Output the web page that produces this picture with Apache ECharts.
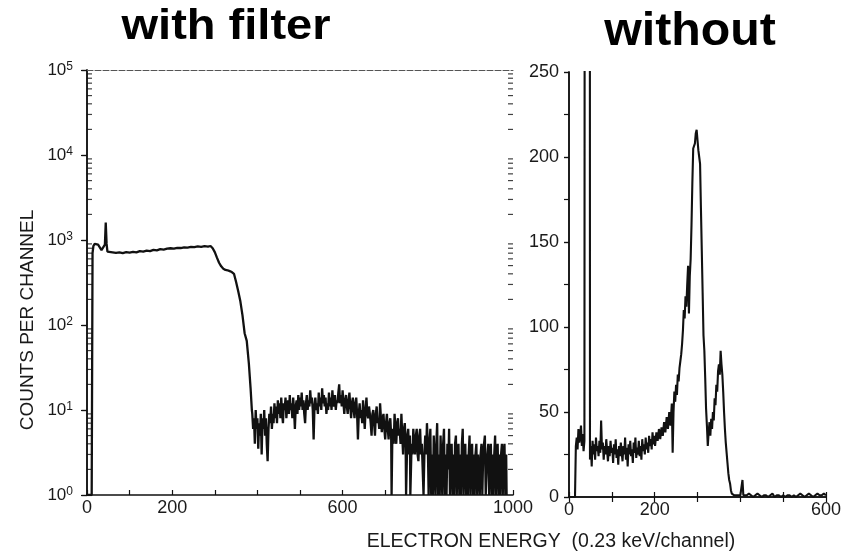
<!DOCTYPE html>
<html>
<head>
<meta charset="utf-8">
<script src="https://cdn.jsdelivr.net/npm/echarts@6/dist/echarts.min.js"></script>
<style>
  html, body { margin: 0; padding: 0; background: #fff; }
  #chart { width: 859px; height: 554px; }
</style>
</head>
<body>
<div id="chart"></div>
<script>
// ---------- data ----------
// Left panel: spectrum with filter, [channel, counts]
const leftSpectrum = [
  [0,1],[11,1],[12,1],[13,700],[15,850],[18,900],[22,870],[26,880],[30,820],[34,760],[38,800],[42,880],[44,1600],[46,900],[48,730],
  [52,710],[56,720],[60,720],[68,705],[76,715],[84,700],[92,720],[100,710],[108,725],[116,715],[124,740],[132,730],[140,750],[148,740],
  [156,765],[164,755],[172,780],[180,770],[188,790],[196,800],[204,790],[212,810],[220,805],[228,820],[236,815],[244,830],[252,825],
  [260,840],[268,830],[276,845],[284,835],[290,850],[295,800],[300,720],[305,620],[310,540],[315,490],[320,460],[325,445],[330,440],
  [335,430],[340,420],[345,400],[350,320],[355,250],[360,190],[365,130],[370,80],[375,65],[380,35],[384,18],[387,10],
  [388,9],[390,6],[392,8],[394,4],[396,10],[398,6],[400,8],[402,3.5],[404,7],[406,5],[408,9],[410,3],[412,8],[414,6],[416,10],[418,5],
  [420,8],[422,4],[424,2.5],[426,6],[428,9],[430,7],[432,11],[434,6],[436,9],[438,7],[440,12],[442,8],[444,11],[446,7],[448,13],[450,9],
  [452,12],[454,8],[456,14],[458,9],[460,7],[462,12],[464,10],[466,14],[468,8],[470,11],[472,13],[474,9],[476,15],[478,10],[480,12],
  [482,8],[484,14],[486,10],[488,6],[490,11],[492,13],[494,9],[496,15],[498,10],[500,14],[502,11],[504,16],[506,10],[508,13],[510,9],
  [512,7],[514,12],[516,15],[518,10],[520,13],[522,11],[524,17],[526,12],[528,14],[530,10],[532,4.5],[534,11],[536,14],[538,10],
  [540,12],[542,9],[544,16],[546,11],[548,14],[550,10],[552,18],[554,12],[556,15],[558,11],[560,14],[562,9],[564,12],[566,10],
  [568,16],[570,11],[572,14],[574,10],[576,17],[578,12],[580,11],[582,15],[584,10],[586,13],[588,12],[590,16],[592,20],[594,12],
  [596,15],[598,11],[600,17],[602,12],[604,9],[606,13],[608,15],[610,11],[612,9],[614,13],[616,16],[618,11],[620,8],[622,12],
  [624,14],[626,10],[628,8],[630,12],[632,14],[634,9],[636,4.5],[638,9],[640,12],[642,8],[644,10],[646,7],[648,13],[650,9],[652,6],
  [654,10],[656,14],[658,9],[660,8],[662,11],[664,9],[666,7],[668,5],[670,9],[672,10],[674,7],[676,5],[678,9],[680,11],[682,7],
  [684,8],[686,6],[688,12],[690,8],[692,5.5],[694,8],[696,9],[698,6],[700,4.5],[702,7],[704,9],[706,6],[708,4.5],[710,7],[712,8],
  [714,5],[715,1],[716,1],[717,6],[720,4],[722,9],[724,6],[726,4],[728,7],[730,8],[732,5],[734,6],[736,4],[738,9],[740,5],[742,3],
  [744,6],[746,7],[748,4],[749,1],[751,1],[752,5],[754,6],[756,3],[758,5],[759,1],[761,1],[762,4],[764,3],[766,6],[768,4],[770,3],
  [772,5],[774,6],[776,3],[778,2.5],[780,5],[782,6],[784,3],[786,4],[788,2],[790,1],[792,3],[794,5],[796,3],[798,7],
  [800,4],[802,1],[804,4],[806,6],[808,1],[810,3],[812,1],[814,5],[816,2],[818,1],[820,4],[822,7],[824,1],[826,3],[828,1],[830,5],
  [832,2],[834,1],[836,4],[838,6],[840,1],[842,3],[844,1],[846,4],[848,2],[850,6],[852,1],[854,3],[856,4],[858,1],[860,3],[862,1],
  [864,4],[866,5],[868,1],[870,3],[872,4],[874,1],[876,3],[878,1],[880,4],[882,6],[884,1],[886,3],[888,4],[890,1],[892,3],[894,1],
  [896,3],[898,5],[900,1],[902,3],[904,4],[906,1],[908,3],[910,1],[912,3],[914,4],[916,1],[918,3],[920,2],[922,1],[924,3],[926,4],
  [928,1],[930,3],[932,4],[934,5],[936,1],[938,2],[940,3],[942,4],[944,1],[946,3],[948,4],[950,1],[952,3],[954,1],[956,3],[958,5],
  [960,1],[962,3],[964,4],[966,1],[968,3],[970,1],[972,3],[974,4],[976,1],[978,3],[980,4],[982,1],[984,3],[985,1]
];
// Right panel: spectrum without filter, [channel, counts] (first peak runs off scale)
const rightSpectrum = [
  [0,0],[14,0],[16,30],[18,35],[20,28],[22,40],[24,32],[26,36],[28,42],[30,30],[32,37],[34,27],[36,33],[38,1000],[48,1000],
  [49,22],[51,30],[53,18],[55,33],[57,25],[59,31],[61,22],[63,35],[65,27],[67,30],[69,24],[71,33],[73,26],[75,45],[77,28],[79,32],
  [81,22],[83,30],[85,25],[87,34],[89,27],[91,21],[93,30],[95,24],[97,33],[99,26],[101,29],[103,20],[105,31],[107,25],[109,34],
  [111,23],[113,28],[115,19],[117,30],[119,24],[121,32],[123,26],[125,21],[127,30],[129,25],[131,35],[133,22],[135,29],[137,18],
  [139,31],[141,25],[143,33],[145,24],[147,28],[149,20],[151,32],[153,26],[155,35],[157,23],[159,29],[161,25],[163,33],[165,24],
  [167,30],[169,22],[171,34],[173,27],[175,31],[177,25],[179,35],[181,28],[183,32],[185,26],[187,36],[189,30],[191,34],[193,28],
  [195,38],[197,31],[199,36],[201,30],[204,38],[207,33],[210,40],[213,34],[216,41],[219,36],[222,44],[225,38],[228,47],[231,40],
  [234,50],[237,42],[240,55],[242,26],[244,50],[246,62],[248,56],[250,66],[252,60],[254,72],[256,68],[258,76],[260,80],[262,84],
  [264,90],[266,98],[268,110],[270,105],[272,118],[274,112],[276,125],[278,136],[280,108],[282,130],[284,140],[286,160],[288,185],
  [290,205],[292,204],[294,208],[296,214],[298,216],[300,210],[302,204],[304,200],[306,196],[308,170],[310,145],[312,120],[314,95],
  [316,86],[318,70],[320,52],[322,42],[324,30],[326,38],[328,44],[330,36],[332,46],[334,40],[336,50],[338,45],[340,58],[342,54],
  [344,66],[346,62],[348,74],[350,78],[352,72],[354,86],[356,78],[358,72],[360,62],[362,50],[364,40],[366,32],[368,26],[370,20],
  [372,14],[374,10],[376,8],[378,4],[380,2],[383,1],[386,1],[390,0],[395,1],[400,1],[403,0],[405,10],[407,1],[410,0],[415,1],
  [420,2],[425,1],[430,0],[435,1],[440,2],[445,1],[450,0],[455,1],[460,1],[465,0],[470,1],[475,2],[480,0],[485,1],[490,1],[495,0],
  [500,1],[505,0],[510,1],[515,1],[520,0],[525,1],[530,0],[535,1],[540,2],[545,1],[550,0],[555,1],[560,2],[565,1],[570,0],[575,1],
  [580,2],[585,1],[590,1],[595,2],[600,1]
];
// tick labels
const leftXLabels = [0, 200, 600, 1000];
const rightXLabels = [0, 200, 600];
const logDecades = [1, 10, 100, 1000, 10000];
const logMinorMultipliers = [2, 3, 4, 5, 6, 7, 8, 9];
// texts
const titleLeft = 'with filter';
const titleRight = 'without';
const yName = 'COUNTS PER CHANNEL';
const xName = 'ELECTRON ENERGY  (0.23 keV/channel)';

// ---------- chart ----------
const INK = '#111';
const FONT = '"Liberation Sans", Arial, sans-serif';
const minorTickValues = [];
logDecades.forEach(d => logMinorMultipliers.forEach(m => minorTickValues.push(d * m)));

const axisLine = { show: true, lineStyle: { color: INK, width: 1.5 } };
const labelStyle = { color: '#1a1a1a', fontFamily: FONT, fontSize: 18 };

const chart = echarts.init(document.getElementById('chart'), null, { renderer: 'canvas' });
chart.setOption({
  backgroundColor: '#fff',
  animation: false,
  grid: [
    { left: 87, top: 70, width: 426, height: 425 },
    { left: 569, top: 72, width: 257, height: 425 }
  ],
  xAxis: [
    { gridIndex: 0, type: 'value', position: 'bottom', min: 0, max: 1000, interval: 100,
      axisLine, splitLine: { show: false },
      axisTick: { inside: true, length: 5, lineStyle: { color: INK, width: 1.2 } },
      axisLabel: { ...labelStyle, margin: 4, formatter: v => leftXLabels.includes(v) ? String(v) : '' } },
    { gridIndex: 0, type: 'value', position: 'top', min: 0, max: 1000, interval: 100,
      axisLine: { show: true, lineStyle: { color: '#555', width: 1, type: [6, 2] } }, splitLine: { show: false },
      axisTick: { show: false }, axisLabel: { show: false } },
    { gridIndex: 1, type: 'value', position: 'bottom', min: 0, max: 600, interval: 100,
      axisLine, splitLine: { show: false },
      axisTick: { inside: true, length: 5, lineStyle: { color: INK, width: 1.2 } },
      axisLabel: { ...labelStyle, margin: 4, formatter: v => rightXLabels.includes(v) ? String(v) : '' } },
    { gridIndex: 1, type: 'value', position: 'top', min: 0, max: 600, interval: 100,
      axisLine, splitLine: { show: false },
      axisTick: { inside: true, length: 5, lineStyle: { color: INK, width: 1.2 } }, axisLabel: { show: false } }
  ],
  yAxis: [
    { gridIndex: 0, type: 'log', logBase: 10, min: 1, max: 100000, splitNumber: 5, position: 'left',
      axisLine, splitLine: { show: false },
      axisTick: { inside: false, length: 5, lineStyle: { color: INK, width: 1.2 } },
      axisLabel: {
        margin: 14,
        formatter: v => '{b|10}{s|' + Math.round(Math.log10(v)) + '}',
        rich: {
          b: { fontFamily: FONT, fontSize: 17, lineHeight: 19, color: '#1a1a1a' },
          s: { fontFamily: FONT, fontSize: 12, lineHeight: 12, verticalAlign: 'top', color: '#1a1a1a' }
        }
      } },
    { gridIndex: 0, type: 'log', logBase: 10, min: 1, max: 100000, splitNumber: 5, position: 'right',
      axisLine, splitLine: { show: false },
      axisTick: { inside: true, length: 6, lineStyle: { color: INK, width: 1.2 } }, axisLabel: { show: false } },
    { gridIndex: 1, type: 'value', min: 0, max: 250, interval: 50, position: 'left',
      axisLine, splitLine: { show: false },
      axisTick: { inside: false, length: 5, lineStyle: { color: INK, width: 1.2 } },
      minorTick: { show: true, splitNumber: 2, length: 3, lineStyle: { color: INK, width: 1 } },
      axisLabel: { ...labelStyle, margin: 10 } },
    { gridIndex: 1, type: 'value', min: 0, max: 250, interval: 25, position: 'right',
      axisLine, splitLine: { show: false },
      axisTick: { inside: true, length: 5, lineStyle: { color: INK, width: 1.2 } }, axisLabel: { show: false } }
  ],
  series: [
    { type: 'line', xAxisIndex: 0, yAxisIndex: 0, data: leftSpectrum, showSymbol: false, clip: true,
      lineStyle: { color: INK, width: 2.3 } },
    { type: 'line', xAxisIndex: 2, yAxisIndex: 2, data: rightSpectrum, showSymbol: false, clip: true,
      lineStyle: { color: INK, width: 2.1 } },
    // log minor ticks, inner side of left axis
    { type: 'scatter', xAxisIndex: 0, yAxisIndex: 0, clip: false, silent: true,
      data: minorTickValues.map(v => [0, v]), symbol: 'rect', symbolSize: [5, 1.2], symbolOffset: [2.5, 0],
      itemStyle: { color: INK } },
    // log minor ticks, inner side of right border
    { type: 'scatter', xAxisIndex: 0, yAxisIndex: 0, clip: false, silent: true,
      data: minorTickValues.map(v => [1000, v]), symbol: 'rect', symbolSize: [5, 1.2], symbolOffset: [-2.5, 0],
      itemStyle: { color: INK } }
  ],
  graphic: [
    { type: 'text', x: 226, y: 27, scaleX: 1.12, style: { text: titleLeft, align: 'center', verticalAlign: 'middle',
      font: 'bold 42px "Liberation Sans", Arial, sans-serif', fill: '#000' } },
    { type: 'text', x: 690, y: 32, scaleX: 1.05, style: { text: titleRight, align: 'center', verticalAlign: 'middle',
      font: 'bold 46px "Liberation Sans", Arial, sans-serif', fill: '#000' } },
    { type: 'text', x: 28, y: 320, rotation: Math.PI / 2, style: { text: yName, align: 'center', verticalAlign: 'middle',
      font: '19px ' + FONT, fill: '#1a1a1a' } },
    { type: 'text', x: 551, y: 542, style: { text: xName, align: 'center', verticalAlign: 'middle',
      font: '19.5px ' + FONT, fill: '#1a1a1a' } }
  ]
});
</script>
</body>
</html>
